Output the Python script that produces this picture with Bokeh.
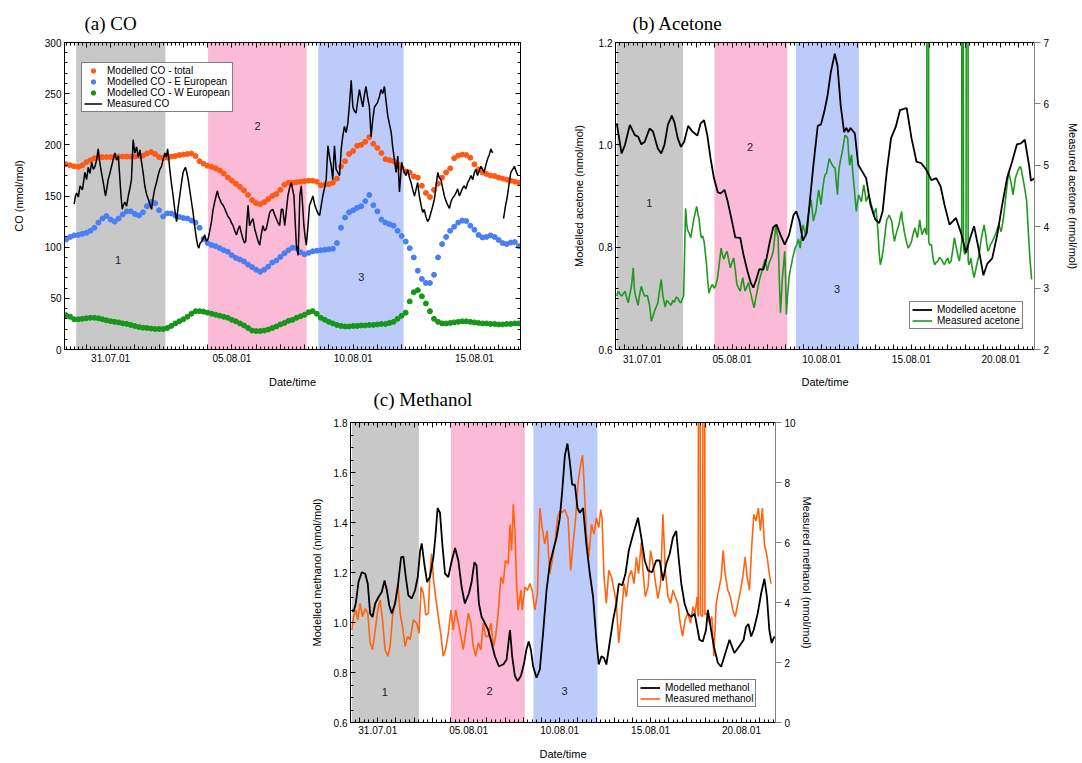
import math
import numpy as np
from bokeh.plotting import figure
from bokeh.models import (FixedTicker, LinearAxis, Range1d, BoxAnnotation, Legend,
                          LegendItem, Spacer, ColumnDataSource, CustomLabelingPolicy)
from bokeh.layouts import row, column
from bokeh.embed import file_html
from bokeh.resources import INLINE
from bokeh.core.properties import value

SANS = "Liberation Sans"
SERIF = "Liberation Serif"

# ---------------- data (x = days since 31.07.01 00:00) ----------------
date_tick_days = [0, 5, 10, 15, 20]
date_tick_labels = ["31.07.01", "05.08.01", "10.08.01", "15.08.01", "20.08.01"]

region_start = [-1.42, 4.02, 8.56]
region_end = [2.26, 8.08, 12.08]
region_colors = ["#c8c8c8", "#fbbad6", "#bccbf9"]
region_names = ["1", "2", "3"]
co_region_x = [0.31, 6.06, 10.34]
co_region_y = [87, 218.5, 71]
acet_region_x = [0.38, 6.0, 10.86]
acet_region_y = [0.887, 0.996, 0.719]
meth_region_x = [0.38, 6.15, 10.27]
meth_region_y = [0.721, 0.725, 0.728]

# modelled CO, 4-hourly output starting 29.07.01 04:00
co_model_start = -11 / 6
co_model_step = 1 / 6
co_total = [181, 180, 179, 178.5, 180, 183, 185, 187, 187.5, 188,
            188, 188, 188.5, 188.5, 188.5, 188.5, 188.5, 188.5, 189, 189.5,
            191.5, 193, 191, 188, 187, 187.5, 188.5, 189, 190, 190.5,
            191, 191.5, 189, 184, 181.5, 179.5, 178.5, 177, 175, 172,
            168, 165, 162, 159, 155.5, 151, 146, 143, 142, 144,
            147, 150, 152, 156, 161, 163, 163, 163.5, 164, 164.5,
            165, 165, 164, 160.5, 161, 161.5, 163, 167, 179, 184,
            191, 194, 199, 200, 203, 207.5, 201, 197, 192, 186,
            185, 184, 181, 177.5, 174, 173, 169, 168, 160, 153,
            149, 156, 162, 168, 173, 177, 187, 189.5, 190.5, 190,
            187.5, 181, 176, 173, 171.5, 170, 169.5, 168, 167, 166,
            165, 164, 163]
co_east = [107.5, 110, 111.5, 112, 113, 114, 116, 119, 124, 128,
           130.5, 127, 125, 128, 132, 135, 135, 132.5, 131, 134,
           140, 144, 143, 136, 130, 133, 133, 131, 129.5, 128.5,
           128, 126, 124, 119, 108, 104, 102, 101, 99, 97,
           95.5, 92, 89.5, 88, 86, 83, 80.5, 78, 76, 78,
           81, 85, 87, 90.5, 94, 97, 99.5, 99, 95, 93,
           94.5, 96, 96.5, 97, 97.5, 98, 98.5, 104, 119, 129,
           134, 136, 138.5, 140, 145, 151, 141, 135, 127, 124,
           122.5, 121, 116, 111, 105.5, 99, 90, 77, 69, 65,
           65, 73, 90, 103, 110, 116, 120, 124, 126, 125.5,
           121, 117, 112, 109.5, 110, 111.5, 110, 107, 104, 103,
           104.5, 105, 101]
co_west = [33.5, 32, 29.5, 29.5, 30, 30.5, 31, 31, 30.5, 29.5,
           28.5, 27.7, 27, 26.5, 25.5, 25, 24, 23, 22, 21.3,
           21, 20.5, 20, 20, 20, 21, 23, 25.5, 27.5, 29.5,
           32, 35, 37.4, 37.5, 37, 36, 35, 34, 33, 32,
           31, 29, 27.5, 25.5, 23.5, 21, 18.5, 18, 18, 18.5,
           19.5, 21, 22.5, 24.5, 26, 28, 29, 31, 32.5, 34,
           36.5, 37.5, 35, 31, 29, 27, 25.5, 24, 23, 22.5,
           22.5, 23, 23, 23.5, 23.5, 24, 24, 24.5, 25, 25,
           26, 27, 30, 33, 36, 47, 56, 58, 52, 45,
           37.5, 30, 27, 25.5, 25.5, 26, 26.5, 27, 27.5, 27.5,
           27, 26.5, 26, 25.5, 25.5, 25, 25, 24.5, 24.5, 25,
           25, 25.5, 25.5]

# measured CO (time, nmol/mol); NaN marks the data gap
co_measured = [
    (-1.50, 142), (-1.45, 150), (-1.40, 153), (-1.33, 149), (-1.26, 160), (-1.16, 156), (-1.06, 173), (-0.99, 166),
    (-0.92, 178), (-0.85, 172), (-0.78, 183), (-0.71, 176), (-0.64, 179), (-0.57, 186), (-0.51, 196), (-0.44, 182),
    (-0.37, 172), (-0.30, 163), (-0.21, 150), (-0.15, 158), (-0.10, 166), (-0.03, 172), (0.04, 179), (0.11, 186),
    (0.18, 192), (0.25, 185), (0.32, 189), (0.38, 168), (0.43, 150), (0.48, 137), (0.53, 141), (0.59, 144),
    (0.66, 140), (0.73, 150), (0.80, 158), (0.86, 166), (0.93, 205), (1.00, 192), (1.07, 198), (1.14, 188),
    (1.21, 195), (1.27, 184), (1.34, 173), (1.41, 160), (1.48, 152), (1.55, 147), (1.62, 142), (1.69, 137),
    (1.75, 148), (1.82, 157), (1.89, 163), (1.96, 170), (2.03, 176), (2.10, 179), (2.17, 186), (2.24, 192),
    (2.30, 188), (2.35, 196), (2.40, 186), (2.44, 176), (2.51, 162), (2.58, 150), (2.65, 136), (2.72, 125),
    (2.78, 138), (2.85, 150), (2.92, 162), (2.99, 173), (3.04, 176), (3.09, 178), (3.15, 172), (3.20, 166),
    (3.30, 150), (3.40, 134), (3.47, 120), (3.54, 108), (3.60, 101), (3.64, 99), (3.69, 104), (3.74, 105),
    (3.81, 108), (3.88, 112), (3.95, 106), (4.02, 108), (4.09, 116), (4.16, 125), (4.22, 136), (4.29, 144),
    (4.35, 150), (4.40, 155), (4.45, 150), (4.50, 147), (4.57, 143), (4.64, 141), (4.70, 138), (4.77, 134),
    (4.84, 130), (4.91, 128), (4.98, 124), (5.05, 121), (5.12, 116), (5.19, 112), (5.25, 117), (5.32, 121),
    (5.39, 114), (5.46, 108), (5.52, 104), (5.57, 106), (5.62, 125), (5.67, 141), (5.73, 121), (5.80, 125),
    (5.87, 128), (5.94, 118), (6.01, 112), (6.08, 106), (6.15, 102), (6.21, 112), (6.28, 121), (6.35, 116),
    (6.42, 118), (6.49, 126), (6.56, 134), (6.62, 136), (6.69, 137), (6.76, 132), (6.83, 128), (6.90, 124),
    (6.97, 121), (7.04, 137), (7.10, 137), (7.18, 121), (7.24, 134), (7.31, 150), (7.38, 158), (7.45, 163),
    (7.50, 157), (7.56, 150), (7.61, 125), (7.66, 102), (7.70, 96), (7.73, 92), (7.77, 120), (7.80, 150),
    (7.86, 160), (7.92, 140), (7.97, 121), (8.02, 110), (8.07, 102), (8.14, 121), (8.20, 141), (8.27, 145),
    (8.34, 150), (8.41, 142), (8.48, 137), (8.55, 133), (8.62, 131), (8.68, 140), (8.75, 150), (8.82, 158),
    (8.89, 166), (8.96, 199), (9.03, 188), (9.10, 179), (9.16, 166), (9.23, 199), (9.30, 176), (9.37, 173),
    (9.44, 170), (9.51, 196), (9.57, 208), (9.64, 218), (9.71, 212), (9.78, 221), (9.85, 240), (9.92, 263),
    (9.99, 237), (10.05, 233), (10.12, 231), (10.19, 243), (10.26, 254), (10.33, 245), (10.40, 237), (10.46, 248),
    (10.53, 257), (10.60, 246), (10.67, 237), (10.74, 208), (10.81, 225), (10.88, 237), (10.94, 239), (11.00, 241),
    (11.08, 247), (11.15, 254), (11.22, 250), (11.29, 257), (11.36, 242), (11.43, 228), (11.50, 220), (11.57, 212),
    (11.63, 198), (11.70, 186), (11.77, 173), (11.84, 189), (11.91, 154), (12.00, 183), (12.05, 178), (12.11, 173),
    (12.18, 170), (12.25, 176), (12.32, 168), (12.39, 163), (12.46, 156), (12.53, 150), (12.60, 157), (12.66, 163),
    (12.73, 150), (12.80, 141), (12.87, 134), (12.93, 137), (13.00, 130), (13.07, 125), (13.14, 128), (13.21, 134),
    (13.28, 140), (13.35, 147), (13.42, 160), (13.49, 173), (13.55, 168), (13.62, 166), (13.69, 158), (13.76, 150),
    (13.83, 145), (13.90, 141), (13.97, 138), (14.03, 144), (14.10, 148), (14.17, 150), (14.24, 153), (14.31, 157),
    (14.38, 150), (14.45, 154), (14.52, 158), (14.58, 160), (14.65, 157), (14.72, 163), (14.79, 166), (14.86, 170),
    (14.93, 166), (15.00, 173), (15.06, 176), (15.13, 170), (15.20, 175), (15.27, 179), (15.34, 176), (15.40, 173),
    (15.47, 180), (15.54, 186), (15.61, 190), (15.68, 196), (15.75, 192), (15.90, float("nan")),
    (16.20, 128), (16.28, 140), (16.36, 150), (16.43, 162), (16.50, 173), (16.58, 176), (16.65, 179), (16.72, 174),
    (16.79, 170)]

# modelled acetone (time, nmol/mol)
acetone_modelled = [
    (-1.43, 1.042), (-1.16, 0.983), (-0.97, 1.0), (-0.7, 1.039), (-0.42, 1.019), (-0.24, 1.016), (-0.06, 1.001),
    (0.13, 1.006), (0.4, 1.032), (0.59, 1.026), (0.86, 0.993), (1.05, 0.983), (1.23, 1.0), (1.42, 1.039),
    (1.64, 1.057), (1.78, 1.045), (1.97, 1.013), (2.15, 0.996), (2.33, 1.006), (2.55, 1.037), (2.79, 1.026),
    (3.07, 1.018), (3.25, 1.042), (3.44, 1.048), (3.62, 1.019), (3.8, 0.974), (3.99, 0.935), (4.21, 0.907),
    (4.36, 0.905), (4.58, 0.912), (4.76, 0.889), (5.0, 0.85), (5.18, 0.819), (5.46, 0.818), (5.64, 0.785),
    (5.86, 0.753), (6.05, 0.73), (6.19, 0.721), (6.38, 0.74), (6.52, 0.757), (6.74, 0.756), (6.93, 0.779),
    (7.11, 0.811), (7.3, 0.839), (7.48, 0.844), (7.7, 0.824), (7.94, 0.805), (8.18, 0.824), (8.43, 0.863),
    (8.58, 0.87), (8.77, 0.85), (8.95, 0.813), (9.17, 0.828), (9.32, 0.883), (9.54, 0.961), (9.78, 1.037),
    (9.96, 1.04), (10.14, 1.064), (10.33, 1.097), (10.51, 1.142), (10.73, 1.178), (10.88, 1.155), (11.06, 1.077),
    (11.25, 1.025), (11.38, 1.033), (11.48, 1.025), (11.61, 1.033), (11.85, 1.022), (12.04, 0.961), (12.26, 0.948),
    (12.48, 0.935), (12.72, 0.883), (12.99, 0.854), (13.21, 0.847), (13.4, 0.87), (13.63, 0.948), (13.87, 1.013),
    (14.13, 1.035), (14.37, 1.068), (14.74, 1.072), (15.01, 1.013), (15.29, 0.967), (15.56, 0.964), (15.84, 0.951),
    (16.12, 0.931), (16.39, 0.935), (16.63, 0.919), (16.85, 0.883), (17.13, 0.844), (17.49, 0.857), (17.77, 0.828),
    (18.05, 0.789), (18.28, 0.818), (18.5, 0.841), (18.78, 0.792), (19.02, 0.745), (19.24, 0.768), (19.51, 0.778),
    (19.79, 0.824), (20.07, 0.883), (20.34, 0.935), (20.62, 0.967), (20.89, 1.001), (21.11, 1.003), (21.33, 1.01),
    (21.58, 0.957), (21.67, 0.93), (21.84, 0.934)]

# measured acetone (time, nmol/mol)
acetone_measured = [
    (-1.43, 2.87), (-1.34, 2.95), (-1.25, 2.9), (-1.16, 2.87), (-0.97, 2.95), (-0.88, 2.85), (-0.79, 2.76),
    (-0.7, 2.9), (-0.61, 3.03), (-0.51, 3.33), (-0.45, 3.0), (-0.39, 2.88), (-0.24, 2.72), (-0.15, 2.9),
    (-0.06, 3.03), (0.05, 2.92), (0.13, 2.87), (0.28, 2.88), (0.4, 2.72), (0.5, 2.46), (0.6, 2.55), (0.68, 2.63),
    (0.78, 2.7), (0.86, 2.76), (0.95, 2.95), (1.05, 3.14), (1.14, 2.88), (1.27, 2.69), (1.36, 2.8), (1.45, 2.77),
    (1.6, 2.72), (1.7, 2.8), (1.78, 2.77), (1.88, 2.85), (1.97, 2.84), (2.07, 2.78), (2.15, 2.76), (2.3, 2.88),
    (2.41, 4.3), (2.47, 4.05), (2.52, 3.95), (2.6, 3.9), (2.7, 3.82), (2.8, 4.0), (2.88, 4.14), (2.96, 4.25),
    (3.03, 4.33), (3.1, 4.2), (3.16, 4.14), (3.22, 3.95), (3.29, 3.82), (3.36, 3.85), (3.44, 3.76), (3.5, 3.6),
    (3.58, 3.38), (3.65, 3.1), (3.71, 2.92), (3.8, 3.0), (3.9, 3.06), (4.0, 3.0), (4.08, 3.03), (4.18, 3.15),
    (4.26, 3.33), (4.33, 3.5), (4.39, 3.65), (4.46, 3.55), (4.54, 3.47), (4.63, 3.55), (4.72, 3.6), (4.82, 3.45),
    (4.91, 3.33), (5.0, 3.42), (5.09, 3.49), (5.18, 3.3), (5.27, 3.06), (5.36, 3.0), (5.46, 2.95), (5.53, 3.08),
    (5.6, 3.17), (5.66, 3.05), (5.73, 2.95), (5.82, 3.02), (5.92, 3.09), (6.01, 2.95), (6.1, 2.84), (6.17, 2.75),
    (6.23, 2.68), (6.3, 2.8), (6.38, 2.92), (6.47, 3.05), (6.56, 3.17), (6.64, 3.25), (6.71, 3.33), (6.78, 3.4),
    (6.85, 3.47), (6.96, 3.28), (7.04, 3.38), (7.11, 3.44), (7.2, 3.5), (7.3, 3.6), (7.37, 3.8), (7.44, 4.03),
    (7.5, 3.9), (7.57, 3.82), (7.63, 3.2), (7.7, 2.6), (7.76, 2.9), (7.81, 3.17), (7.88, 3.4), (7.94, 3.6),
    (7.99, 3.1), (8.03, 2.57), (8.1, 2.9), (8.18, 3.17), (8.25, 3.3), (8.31, 3.38), (8.37, 3.48), (8.43, 3.55),
    (8.52, 3.65), (8.62, 3.71), (8.7, 3.8), (8.8, 3.65), (8.88, 3.85), (8.95, 4.03), (9.03, 3.95), (9.1, 3.87),
    (9.18, 4.05), (9.28, 4.25), (9.35, 4.35), (9.41, 4.44), (9.48, 4.25), (9.54, 4.09), (9.61, 4.18), (9.68, 4.25),
    (9.76, 4.45), (9.83, 4.6), (9.9, 4.48), (9.96, 4.36), (10.05, 4.6), (10.14, 4.79), (10.2, 4.85), (10.27, 4.87),
    (10.35, 5.0), (10.42, 5.11), (10.51, 5.05), (10.6, 5.0), (10.68, 4.97), (10.75, 4.95), (10.82, 4.7),
    (10.88, 4.52), (10.93, 4.8), (10.97, 4.95), (11.06, 5.1), (11.15, 5.22), (11.22, 5.35), (11.3, 5.49),
    (11.38, 5.47), (11.45, 5.44), (11.5, 5.2), (11.56, 5.0), (11.62, 5.1), (11.67, 5.17), (11.73, 4.9),
    (11.8, 4.68), (11.87, 4.45), (11.93, 4.25), (12.0, 4.4), (12.07, 4.52), (12.15, 4.45), (12.22, 4.41),
    (12.28, 4.55), (12.35, 4.68), (12.42, 4.55), (12.48, 4.41), (12.55, 4.47), (12.62, 4.52), (12.7, 4.44),
    (12.77, 4.36), (12.84, 4.28), (12.9, 4.19), (12.97, 4.25), (13.03, 4.3), (13.09, 4.1), (13.14, 3.92),
    (13.2, 3.6), (13.27, 3.38), (13.32, 3.45), (13.36, 3.49), (13.44, 3.65), (13.51, 3.82), (13.57, 3.98),
    (13.63, 4.11), (13.7, 4.15), (13.76, 4.19), (13.84, 4.13), (13.91, 4.09), (13.98, 3.9), (14.06, 3.76),
    (14.12, 3.85), (14.19, 3.92), (14.25, 3.98), (14.31, 4.03), (14.38, 4.15), (14.46, 4.25), (14.5, 4.1),
    (14.55, 4.03), (14.62, 3.9), (14.68, 3.82), (14.76, 3.72), (14.83, 3.65), (14.92, 3.7), (15.01, 3.76),
    (15.1, 3.88), (15.2, 3.98), (15.27, 3.9), (15.34, 3.82), (15.4, 3.95), (15.47, 4.11), (15.53, 3.98),
    (15.6, 3.87), (15.68, 3.93), (15.75, 3.98), (15.8, 3.92), (15.86, 3.87), (15.87, 9.0), (15.96, 9.0),
    (15.97, 3.75), (16.04, 3.7), (16.12, 3.71), (16.21, 3.49), (16.3, 3.38), (16.39, 3.42), (16.48, 3.44),
    (16.57, 3.5), (16.67, 3.47), (16.76, 3.42), (16.85, 3.38), (16.94, 3.45), (17.03, 3.49), (17.12, 3.4),
    (17.22, 3.44), (17.3, 3.6), (17.4, 3.82), (17.48, 3.7), (17.55, 3.6), (17.62, 3.5), (17.68, 3.44),
    (17.75, 3.6), (17.81, 3.76), (17.82, 9.0), (17.9, 9.0), (17.91, 3.65), (17.98, 3.55), (18.05, 3.6),
    (18.07, 9.0), (18.16, 9.0), (18.17, 3.45), (18.21, 3.38), (18.27, 3.42), (18.32, 3.49), (18.41, 3.3),
    (18.5, 3.17), (18.58, 3.28), (18.65, 3.38), (18.72, 3.47), (18.78, 3.55), (18.85, 3.7), (18.91, 3.82),
    (18.98, 3.92), (19.06, 4.03), (19.1, 3.95), (19.15, 3.87), (19.21, 3.72), (19.28, 3.6), (19.35, 3.65),
    (19.42, 3.71), (19.52, 3.76), (19.61, 3.82), (19.68, 3.87), (19.75, 3.92), (19.81, 3.98), (19.88, 4.03),
    (19.95, 3.97), (20.01, 3.92), (20.09, 4.05), (20.16, 4.19), (20.23, 4.38), (20.3, 4.57), (20.37, 4.75),
    (20.43, 4.9), (20.5, 4.8), (20.56, 4.73), (20.62, 4.62), (20.67, 4.52), (20.74, 4.65), (20.8, 4.79),
    (20.87, 4.85), (20.93, 4.9), (21.0, 4.95), (21.08, 4.98), (21.14, 4.92), (21.28, 4.7), (21.43, 4.43),
    (21.52, 3.95), (21.62, 3.46), (21.71, 3.14)]

# modelled methanol (time, nmol/mol)
methanol_modelled = [
    (-1.42, 1.05), (-1.33, 1.044), (-1.21, 1.076), (-1.06, 1.162), (-0.88, 1.201), (-0.69, 1.195), (-0.55, 1.155),
    (-0.42, 1.036), (-0.29, 1.022), (-0.14, 1.076), (0.04, 1.102), (0.22, 1.122), (0.37, 1.168), (0.5, 1.129),
    (0.63, 1.069), (0.77, 1.036), (0.95, 1.076), (1.1, 1.142), (1.28, 1.261), (1.41, 1.263), (1.54, 1.182),
    (1.68, 1.109), (1.87, 1.096), (2.05, 1.129), (2.2, 1.182), (2.33, 1.287), (2.42, 1.316), (2.56, 1.234),
    (2.71, 1.162), (2.87, 1.182), (3.06, 1.261), (3.18, 1.353), (3.29, 1.458), (3.42, 1.439), (3.55, 1.313),
    (3.7, 1.195), (3.88, 1.182), (4.07, 1.248), (4.25, 1.298), (4.43, 1.248), (4.61, 1.142), (4.79, 1.076),
    (5.01, 1.116), (5.16, 1.162), (5.31, 1.241), (5.43, 1.228), (5.56, 1.076), (5.71, 1.022), (5.85, 1.003),
    (6.07, 0.97), (6.26, 0.918), (6.44, 0.865), (6.66, 0.825), (6.9, 0.832), (7.08, 0.851), (7.27, 0.97),
    (7.39, 0.865), (7.54, 0.786), (7.69, 0.766), (7.87, 0.786), (8.05, 0.839), (8.17, 0.891), (8.3, 0.924),
    (8.42, 0.891), (8.54, 0.825), (8.73, 0.779), (8.91, 0.812), (9.09, 0.957), (9.28, 1.129), (9.46, 1.234),
    (9.64, 1.287), (9.83, 1.34), (10.01, 1.419), (10.14, 1.524), (10.29, 1.669), (10.43, 1.716), (10.56, 1.643),
    (10.69, 1.551), (10.84, 1.551), (10.98, 1.458), (11.11, 1.439), (11.29, 1.458), (11.47, 1.313), (11.66, 1.195),
    (11.84, 1.102), (12.02, 0.931), (12.15, 0.832), (12.3, 0.865), (12.44, 0.858), (12.57, 0.832), (12.75, 0.918),
    (12.94, 1.01), (13.12, 1.076), (13.25, 1.155), (13.44, 1.149), (13.62, 1.195), (13.8, 1.287), (14.04, 1.353),
    (14.31, 1.419), (14.49, 1.34), (14.68, 1.248), (14.86, 1.208), (15.08, 1.201), (15.31, 1.248), (15.5, 1.248),
    (15.68, 1.168), (15.86, 1.234), (16.05, 1.274), (16.23, 1.34), (16.41, 1.366), (16.54, 1.261), (16.69, 1.155),
    (16.87, 1.076), (17.05, 1.036), (17.23, 1.022), (17.42, 1.036), (17.56, 0.983), (17.69, 0.931), (17.87, 0.924),
    (18.05, 0.97), (18.15, 1.05), (18.3, 0.983), (18.48, 0.905), (18.7, 0.839), (18.88, 0.823), (19.06, 0.865),
    (19.34, 0.931), (19.61, 0.878), (19.88, 0.905), (20.12, 0.931), (20.25, 0.983), (20.38, 0.994), (20.53, 0.944),
    (20.67, 0.97), (20.89, 1.036), (21.08, 1.116), (21.26, 1.175), (21.4, 1.102), (21.53, 0.97), (21.66, 0.918),
    (21.81, 0.944)]

# measured methanol (time, nmol/mol)
methanol_measured = [
    (-1.42, 3.09), (-1.33, 3.53), (-1.21, 3.75), (-1.1, 3.42), (-0.97, 3.97), (-0.84, 3.53), (-0.69, 3.8),
    (-0.55, 3.64), (-0.42, 2.65), (-0.29, 2.43), (-0.14, 3.09), (0.0, 3.75), (0.13, 4.08), (0.26, 3.42),
    (0.4, 2.43), (0.55, 2.21), (0.68, 2.54), (0.81, 3.53), (0.95, 3.97), (1.1, 4.63), (1.23, 3.64), (1.36, 3.2),
    (1.5, 2.54), (1.65, 2.87), (1.78, 2.76), (1.96, 3.42), (2.14, 3.31), (2.27, 2.98), (2.38, 4.52), (2.51, 4.3),
    (2.64, 3.58), (2.78, 3.64), (2.87, 4.96), (2.96, 5.62), (3.07, 4.74), (3.18, 4.19), (3.33, 3.53), (3.48, 2.87),
    (3.6, 2.21), (3.73, 2.43), (3.88, 2.98), (4.02, 3.75), (4.15, 3.09), (4.28, 3.75), (4.43, 3.31), (4.57, 2.87),
    (4.7, 2.43), (4.83, 2.98), (4.98, 3.64), (5.12, 3.31), (5.25, 2.54), (5.38, 2.21), (5.53, 2.65), (5.67, 2.43),
    (5.8, 3.31), (5.93, 2.87), (6.07, 2.87), (6.22, 3.31), (6.36, 2.54), (6.48, 2.87), (6.62, 3.64), (6.77, 4.85),
    (6.9, 4.63), (7.02, 5.4), (7.17, 5.29), (7.27, 6.6), (7.36, 5.73), (7.45, 7.27), (7.54, 6.39), (7.63, 4.63),
    (7.72, 3.75), (7.87, 4.41), (7.94, 3.75), (8.09, 4.52), (8.23, 4.41), (8.36, 4.63), (8.49, 4.41), (8.64, 3.75),
    (8.78, 4.3), (8.91, 7.15), (9.04, 6.5), (9.18, 5.95), (9.31, 6.39), (9.46, 4.96), (9.59, 5.4), (9.73, 5.95),
    (9.88, 6.82), (10.01, 7.04), (10.14, 6.99), (10.28, 7.1), (10.46, 6.82), (10.61, 5.07), (10.74, 5.95),
    (10.88, 6.82), (11.02, 8.03), (11.15, 8.58), (11.26, 8.91), (11.35, 7.93), (11.47, 6.28), (11.6, 5.51),
    (11.75, 6.6), (11.89, 6.28), (12.02, 6.82), (12.15, 6.5), (12.26, 7.1), (12.33, 6.82), (12.44, 4.85),
    (12.57, 3.97), (12.7, 5.07), (12.85, 4.85), (12.99, 4.41), (13.12, 3.97), (13.25, 2.65), (13.39, 3.53),
    (13.54, 4.63), (13.67, 4.19), (13.8, 4.85), (13.95, 5.07), (14.09, 4.63), (14.22, 5.51), (14.34, 4.96),
    (14.49, 6.0), (14.58, 5.07), (14.71, 4.19), (14.86, 4.52), (15.0, 5.73), (15.13, 5.29), (15.28, 4.63),
    (15.4, 4.13), (15.55, 4.63), (15.68, 6.94), (15.81, 5.07), (15.96, 4.19), (16.1, 3.97), (16.23, 4.41),
    (16.36, 4.19), (16.5, 3.97), (16.63, 3.31), (16.76, 2.87), (16.9, 3.42), (17.05, 3.64), (17.2, 3.31),
    (17.33, 3.86), (17.45, 3.64), (17.56, 4.19), (17.62, 3.53), (17.63, 11.0), (17.73, 11.0), (17.74, 3.6),
    (17.86, 3.53), (17.88, 11.0), (17.98, 11.0), (17.99, 3.6), (18.11, 3.64), (18.24, 3.31), (18.37, 3.53),
    (18.48, 2.21), (18.61, 3.97), (18.74, 4.41), (18.88, 4.82), (18.99, 5.73), (19.1, 4.96), (19.25, 4.41),
    (19.39, 4.19), (19.52, 3.75), (19.66, 3.53), (19.8, 3.97), (19.95, 4.41), (20.07, 4.85), (20.2, 5.51),
    (20.31, 4.85), (20.44, 4.41), (20.57, 5.95), (20.68, 6.94), (20.8, 6.72), (20.93, 7.15), (21.04, 6.39),
    (21.15, 7.15), (21.26, 5.95), (21.41, 5.51), (21.53, 4.96), (21.62, 4.63)]

co_y_ticks = [0, 50, 100, 150, 200, 250, 300]
acet_y_ticks = [0.6, 0.8, 1.0, 1.2]
acet_y_labels = ["0.6", "0.8", "1.0", "1.2"]
acet_r_ticks = [2, 3, 4, 5, 6, 7]
meth_y_ticks = [0.6, 0.8, 1.0, 1.2, 1.4, 1.6, 1.8]
meth_y_labels = ["0.6", "0.8", "1.0", "1.2", "1.4", "1.6", "1.8"]
meth_r_ticks = [0, 2, 4, 6, 8, 10]

C_ORANGE = "#ff5a14"
C_BLUE = "#4a7ff3"
C_GREEN = "#16961a"
C_MEAS_GREEN = "#1f9a1f"
C_MEAS_ORANGE = "#ff640f"


# ---------------- helpers ----------------
def split(pairs):
    return (np.array([p[0] for p in pairs], dtype=float),
            np.array([p[1] for p in pairs], dtype=float))


def date_ticker(lo, hi, per_day):
    days = list(range(math.ceil(lo), math.floor(hi) + 1))
    minor = [d + k / per_day for d in range(math.floor(lo), math.ceil(hi) + 1) for k in range(per_day)]
    minor = [m for m in minor if lo <= m <= hi]
    lab = dict(zip(date_tick_days, date_tick_labels))
    overrides = {d: lab.get(d, "") for d in days}
    keep = [i for i, d in enumerate(days) if d in lab]
    policy = CustomLabelingPolicy(code="return new Set(%s)" % str(keep))
    return FixedTicker(ticks=days, minor_ticks=minor), overrides, policy


def no_labels():
    return CustomLabelingPolicy(code="return new Set()")


def style_axis(ax, tin=5, tout=0, min_in=3, min_out=0, color="black",
               label_standoff=3, title_standoff=10):
    ax.major_tick_in = tin
    ax.major_tick_out = tout
    ax.minor_tick_in = min_in
    ax.minor_tick_out = min_out
    ax.axis_line_color = color
    ax.major_tick_line_color = color
    ax.minor_tick_line_color = color
    ax.axis_line_width = 1
    ax.major_label_text_font = SANS
    ax.major_label_text_font_size = "10px"
    ax.major_label_text_color = "black"
    ax.major_label_standoff = label_standoff
    ax.axis_label_text_font = SANS
    ax.axis_label_text_font_size = "11px"
    ax.axis_label_text_font_style = "normal"
    ax.axis_label_text_color = "black"
    ax.axis_label_standoff = title_standoff


def mirror_axis(ticker, **kw):
    a = LinearAxis(ticker=ticker, major_label_policy=no_labels(), **kw)
    style_axis(a, label_standoff=0)
    a.major_label_text_font_size = "1px"
    return a


def make_fig(width, height, xr, yr, borders, title, title_offset, title_standoff):
    l, r, t, b = borders
    p = figure(width=width, height=height, x_range=Range1d(*xr), y_range=Range1d(*yr),
               output_backend="svg", toolbar_location=None, title=title,
               min_border_left=l, min_border_right=r, min_border_top=t, min_border_bottom=b)
    p.grid.visible = False
    p.outline_line_color = None
    p.background_fill_color = "white"
    p.border_fill_color = "white"
    p.title.align = "left"
    p.title.offset = title_offset
    p.title.text_font = SERIF
    p.title.text_font_size = "19px"
    p.title.text_font_style = "normal"
    p.title.text_color = "black"
    p.title.standoff = title_standoff
    for s, e, c in zip(region_start, region_end, region_colors):
        p.add_layout(BoxAnnotation(left=s, right=e, fill_color=c, fill_alpha=1.0,
                                   line_alpha=0, level="underlay"))
    return p


def add_region_numbers(p, xs, ys):
    src = ColumnDataSource(dict(x=xs, y=ys, t=region_names))
    p.text(x="x", y="y", text="t", source=src, text_font=value(SANS), text_font_size="11px",
           text_align="center", text_baseline="middle", text_color="#222222")


def style_legend(lg, loc, glyph_w=18):
    lg.location = loc
    lg.label_text_font = SANS
    lg.label_text_font_size = "10px"
    lg.label_text_color = "black"
    lg.glyph_width = glyph_w
    lg.glyph_height = 11
    lg.label_height = 11
    lg.label_standoff = 5
    lg.padding = 2
    lg.spacing = 0
    lg.margin = 0
    lg.border_line_color = "black"
    lg.border_line_width = 1
    lg.background_fill_color = "white"
    lg.background_fill_alpha = 1.0


def setup_x(p, lo, hi, per_day, label_standoff, title_standoff):
    ticker, overrides, policy = date_ticker(lo, hi, per_day)
    ax = p.below[0]
    ax.ticker = ticker
    ax.major_label_overrides = overrides
    ax.major_label_policy = policy
    ax.axis_label = "Date/time"
    style_axis(ax, label_standoff=label_standoff, title_standoff=title_standoff)
    p.add_layout(mirror_axis(ticker), "above")


# ---------------- (a) CO ----------------
XA = (-1.9, 16.9)
XBC = (-1.5, 21.87)

pa = make_fig(569, 390, XA, (0, 300), (64, 49, 42, 38), "(a) CO", 20, 10)
setup_x(pa, XA[0], XA[1], 6, 4, 11)
yt_a = FixedTicker(ticks=co_y_ticks, minor_ticks=list(range(0, 301, 10)))
ay = pa.left[0]
ay.ticker = yt_a
ay.axis_label = "CO (nmol/mol)"
style_axis(ay, label_standoff=3, title_standoff=17)
pa.add_layout(mirror_axis(yt_a), "right")

co_t = [co_model_start + i * co_model_step for i in range(len(co_total))]
r_tot = pa.scatter(co_t, co_total, size=5, color=C_ORANGE, marker="circle")
r_east = pa.scatter(co_t, co_east, size=5, color=C_BLUE, marker="circle")
r_west = pa.scatter(co_t, co_west, size=5, color=C_GREEN, marker="circle")
cmt, cmv = split(co_measured)
r_meas = pa.line(cmt, cmv, line_color="black", line_width=1.5)
add_region_numbers(pa, co_region_x, co_region_y)
lg_a = Legend(items=[LegendItem(label="Modelled CO - total", renderers=[r_tot]),
                     LegendItem(label="Modelled CO - E European", renderers=[r_east]),
                     LegendItem(label="Modelled CO - W European", renderers=[r_west]),
                     LegendItem(label="Measured CO", renderers=[r_meas])])
style_legend(lg_a, (17, 237))
pa.add_layout(lg_a)

# ---------------- (b) Acetone ----------------
pb = make_fig(513, 390, XBC, (0.6, 1.2), (45, 44, 42, 40), "(b) Acetone", 17, 10)
setup_x(pb, XBC[0], XBC[1], 4, 5, 10)
by = pb.left[0]
by.ticker = FixedTicker(ticks=acet_y_ticks, minor_ticks=[round(0.6 + 0.02 * i, 2) for i in range(31)])
by.major_label_overrides = dict(zip(acet_y_ticks, acet_y_labels))
by.axis_label = "Modelled acetone (nmol/mol)"
style_axis(by, label_standoff=3, title_standoff=11)
pb.extra_y_ranges = {"meas": Range1d(2, 7)}
br = LinearAxis(y_range_name="meas", ticker=FixedTicker(ticks=acet_r_ticks, minor_ticks=[]))
br.axis_label = "Measured acetone (nmol/mol)"
style_axis(br, tin=0, tout=6, min_in=0, color="#808080", label_standoff=3, title_standoff=15)
pb.add_layout(br, "right")

amt, amv = split(acetone_modelled)
aet, aev = split(acetone_measured)
r_ae = pb.line(aet, aev, line_color=C_MEAS_GREEN, line_width=1.6, y_range_name="meas")
r_am = pb.line(amt, amv, line_color="black", line_width=1.8)
add_region_numbers(pb, acet_region_x, acet_region_y)
lg_b = Legend(items=[LegendItem(label="Modelled acetone", renderers=[r_am]),
                     LegendItem(label="Measured acetone", renderers=[r_ae])])
style_legend(lg_b, (294, 20), glyph_w=20)
pb.add_layout(lg_b)

# ---------------- (c) Methanol ----------------
# the figure is pulled up 14px (transparent border) so its title sits where the reference has it
pc = make_fig(520, 386, XBC, (0.6, 1.8), (50, 45, 46, 37), "(c) Methanol", 23, 18)
pc.border_fill_alpha = 0.0
pc.margin = (-14, 0, 0, 0)
setup_x(pc, XBC[0], XBC[1], 4, 3, 11)
cy = pc.left[0]
cy.ticker = FixedTicker(ticks=meth_y_ticks, minor_ticks=[round(0.6 + 0.05 * i, 2) for i in range(25)])
cy.major_label_overrides = dict(zip(meth_y_ticks, meth_y_labels))
cy.axis_label = "Modelled methanol (nmol/mol)"
style_axis(cy, label_standoff=3, title_standoff=8)
pc.extra_y_ranges = {"meas": Range1d(0, 10)}
cr = LinearAxis(y_range_name="meas", ticker=FixedTicker(ticks=meth_r_ticks, minor_ticks=[]))
cr.axis_label = "Measured methanol (nmol/mol)"
style_axis(cr, tin=0, tout=6, min_in=0, color="#808080", label_standoff=3, title_standoff=2)
pc.add_layout(cr, "right")

mmt, mmv = split(methanol_modelled)
met, mev = split(methanol_measured)
r_me = pc.line(met, mev, line_color=C_MEAS_ORANGE, line_width=1.6, y_range_name="meas")
r_mm = pc.line(mmt, mmv, line_color="black", line_width=1.8)
add_region_numbers(pc, meth_region_x, meth_region_y)
lg_c = Legend(items=[LegendItem(label="Modelled methanol", renderers=[r_mm]),
                     LegendItem(label="Measured methanol", renderers=[r_me])])
style_legend(lg_c, (287, 15), glyph_w=20)
pc.add_layout(lg_c)

layout = column(row(pa, pb), row(Spacer(width=300, height=372), pc))
open("out.html", "w").write(file_html(layout, INLINE))
